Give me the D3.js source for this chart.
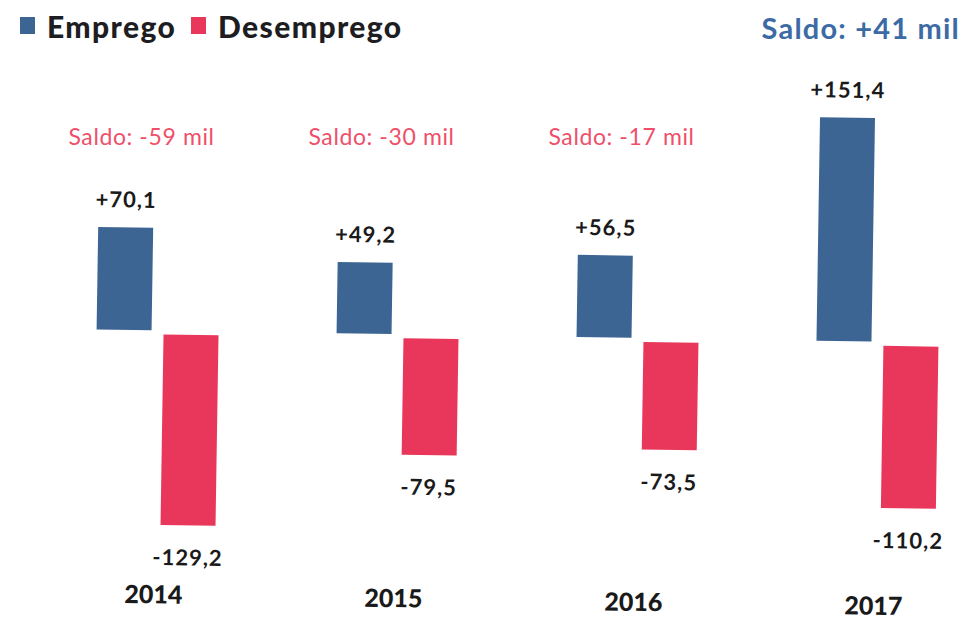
<!DOCTYPE html>
<html>
<head>
<meta charset="utf-8">
<script src="https://cdn.jsdelivr.net/npm/d3@7"></script>
<style>
  html, body { margin: 0; padding: 0; background: #fff; }
  svg { display: block; }
  text { font-family: Lato, "Open Sans", sans-serif; }
</style>
</head>
<body>
<svg id="chart" width="964" height="621"></svg>
<script>
// ---- data ----
const years = ["2014", "2015", "2016", "2017"];
const emprego = [70.1, 49.2, 56.5, 151.4];
const desemprego = [-129.2, -79.5, -73.5, -110.2];
const saldoLabels = ["Saldo: -59 mil", "Saldo: -30 mil", "Saldo: -17 mil"];
const saldoFinal = "Saldo: +41 mil";
const seriesNames = ["Emprego", "Desemprego"];

const fmt = v => (v > 0 ? "+" : "") + v.toFixed(1).replace(".", ",");

const blue = "#3d6593", red = "#e8375a", saldoRed = "#ef5069", saldoBlue = "#3b6aa5";

const svg = d3.select("#chart");

const x = d3.scalePoint().domain(years).range([157.5, 877.5]);
const y = d3.scaleLinear().domain([-140, 160]).range([338 + 140 * 1.49, 338 - 160 * 1.49]);
const barW = 55;

// legend
const legend = svg.append("g");
const legX = [20, 191];
seriesNames.forEach((n, i) => {
  legend.append("rect").attr("x", legX[i]).attr("y", 17).attr("width", 15).attr("height", 17)
    .attr("fill", i === 0 ? blue : red);
  legend.append("text").attr("x", legX[i] + 27).attr("y", 38)
    .attr("font-size", 30).attr("font-weight", 900).attr("letter-spacing", 1.4).attr("fill", "#1d1d22").text(n);
});

svg.append("text").attr("x", 960).attr("y", 39).attr("text-anchor", "end")
  .attr("font-size", 29).attr("font-weight", 700).attr("letter-spacing", 1.2).attr("fill", saldoBlue).text(saldoFinal);

// saldo labels (not rotated)
svg.selectAll("text.saldo").data(saldoLabels).join("text").attr("class", "saldo")
  .attr("x", (d, i) => x(years[i]) - 16).attr("y", 145).attr("text-anchor", "middle")
  .attr("font-size", 23).attr("letter-spacing", 0.6).attr("fill", saldoRed).text(d => d);

// chart (slightly rotated like the photographed slide)
const g = svg.append("g").attr("transform", "rotate(0.9, 516, 338)");

g.selectAll("rect.emp").data(emprego).join("rect").attr("class", "emp")
  .attr("x", (d, i) => x(years[i]) - 61).attr("width", barW)
  .attr("y", d => y(d)).attr("height", d => y(0) - 2 - y(d)).attr("fill", blue);

g.selectAll("rect.des").data(desemprego).join("rect").attr("class", "des")
  .attr("x", (d, i) => x(years[i]) + 6).attr("width", barW)
  .attr("y", y(0) + 2).attr("height", d => y(d) - y(0) - 2).attr("fill", red);

g.selectAll("text.vp").data(emprego).join("text").attr("class", "vp")
  .attr("x", (d, i) => x(years[i]) - 61 + barW / 2).attr("y", d => y(d) - 20)
  .attr("text-anchor", "middle").attr("font-size", 22).attr("font-weight", 700)
  .attr("letter-spacing", 1).attr("fill", "#1a1a1a").text(fmt);

g.selectAll("text.vn").data(desemprego).join("text").attr("class", "vn")
  .attr("x", (d, i) => x(years[i]) + 6 + barW / 2).attr("y", d => y(d) + 40)
  .attr("text-anchor", "middle").attr("font-size", 22).attr("font-weight", 700)
  .attr("letter-spacing", 1).attr("fill", "#1a1a1a").text(fmt);

g.selectAll("text.yr").data(years).join("text").attr("class", "yr")
  .attr("x", d => x(d)).attr("y", 609).attr("text-anchor", "middle")
  .attr("font-size", 25).attr("font-weight", 900).attr("fill", "#1a1a1a").text(d => d);
</script>
</body>
</html>
